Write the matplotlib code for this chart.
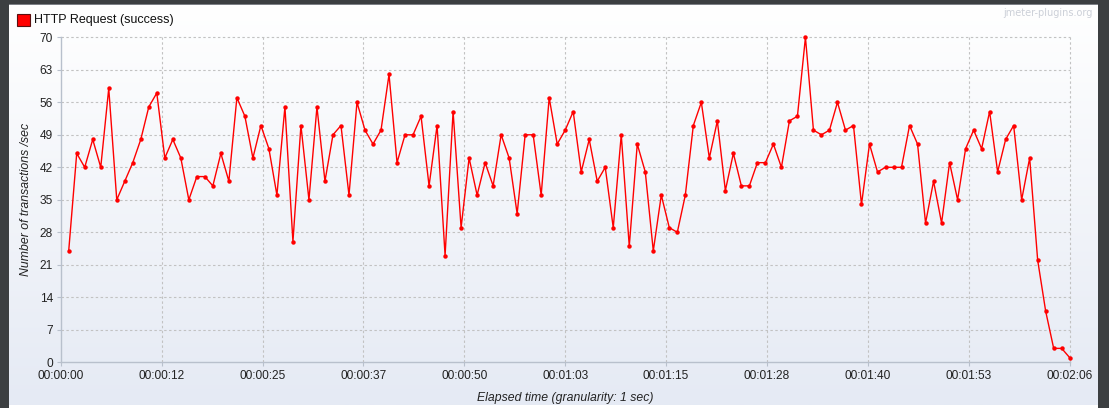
import numpy as np
import matplotlib
matplotlib.use("Agg")
import matplotlib.pyplot as plt
from matplotlib.patches import Rectangle
from matplotlib.ticker import FixedLocator, FixedFormatter

# ---- data ----
seconds = list(range(1, 127))
transactions = [
    24, 45, 42, 48, 42, 59, 35, 39, 43, 48,
    55, 58, 44, 48, 44, 35, 40, 40, 38, 45,
    39, 57, 53, 44, 51, 46, 36, 55, 26, 51,
    35, 55, 39, 49, 51, 36, 56, 50, 47, 50,
    62, 43, 49, 49, 53, 38, 51, 23, 54, 29,
    44, 36, 43, 38, 49, 44, 32, 49, 49, 36,
    57, 47, 50, 54, 41, 48, 39, 42, 29, 49,
    25, 47, 41, 24, 36, 29, 28, 36, 51, 56,
    44, 52, 37, 45, 38, 38, 43, 43, 47, 42,
    52, 53, 70, 50, 49, 50, 56, 50, 51, 34,
    47, 41, 42, 42, 42, 51, 47, 30, 39, 30,
    43, 35, 46, 50, 46, 54, 41, 48, 51, 35,
    44, 22, 11, 3, 3, 1,
]
x_tick_pos = [0, 12.6, 25.2, 37.8, 50.4, 63.0, 75.6, 88.2, 100.8, 113.4, 126.0]
x_tick_labels = ["00:00:00", "00:00:12", "00:00:25", "00:00:37", "00:00:50",
                 "00:01:03", "00:01:15", "00:01:28", "00:01:40", "00:01:53", "00:02:06"]
y_ticks = [0, 7, 14, 21, 28, 35, 42, 49, 56, 63, 70]
series_name = "HTTP Request (success)"

W, H = 1109, 408
fig = plt.figure(figsize=(W / 100, H / 100), dpi=100)
fig.patch.set_facecolor("#3c3f41")
FONT = "Liberation Sans"

def fx(px):
    return px / W

def fy(py):
    return 1 - py / H

# panel background with vertical gradient
p_left, p_right, p_top, p_bot = 9, 1098, 5, 405
bg = fig.add_axes([fx(p_left), fy(p_bot), fx(p_right - p_left), (p_bot - p_top) / H])
grad = np.linspace(0, 1, 256).reshape(-1, 1)
top_c = np.array([1.0, 1.0, 1.0])
bot_c = np.array([0xe5, 0xea, 0xf4]) / 255
img = top_c[None, None, :] * (1 - grad[:, :, None]) + bot_c[None, None, :] * grad[:, :, None]
bg.imshow(img, aspect="auto", extent=[0, 1, 0, 1], origin="upper")
bg.set_axis_off()
bg.set_zorder(0)
# white strip at bottom
fig.patches.append(Rectangle((fx(p_left), 0), fx(p_right - p_left), fy(p_bot), transform=fig.transFigure,
                             facecolor="white", edgecolor="none", zorder=0))
# thin gray line at the top of the panel
fig.patches.append(Rectangle((fx(p_left), fy(p_top)), fx(p_right - p_left), 1.5 / H, transform=fig.transFigure,
                             facecolor="#7d8086", edgecolor="none", zorder=0))

# main axes
ax_l, ax_r, ax_t, ax_b = 60.7, 1069.7, 37.3, 362.3
ax = fig.add_axes([fx(ax_l), fy(ax_b), fx(ax_r - ax_l), (ax_b - ax_t) / H])
ax.set_zorder(1)
ax.patch.set_alpha(0)

ax.plot(seconds, transactions, color="#ff0000", lw=1.0, marker="o", ms=3.2,
        markeredgewidth=0, zorder=3, clip_on=False)

ax.set_xlim(0, 126)
ax.set_ylim(0, 70)
ax.xaxis.set_major_locator(FixedLocator(x_tick_pos))
ax.xaxis.set_major_formatter(FixedFormatter(x_tick_labels))
ax.set_yticks(y_ticks)

grid_kw = dict(color="#c2c2c2", lw=0.8, linestyle=(0, (2.2, 2.2)))
for y in y_ticks[1:]:
    ax.axhline(y, zorder=1, clip_on=False, **grid_kw)
for x in x_tick_pos[1:]:
    ax.axvline(x, zorder=1, clip_on=False, **grid_kw)

for s in ("top", "right"):
    ax.spines[s].set_visible(False)
for s in ("left", "bottom"):
    ax.spines[s].set_color("#b8c0cc")
    ax.spines[s].set_linewidth(1.0)

ax.tick_params(axis="both", colors="#b8c0cc", length=3, width=0.8, labelcolor="#222222",
               labelsize=8.6, pad=2.5)
for lbl in ax.get_xticklabels() + ax.get_yticklabels():
    lbl.set_fontfamily(FONT)

ax.set_ylabel("Number of transactions /sec", fontsize=8.8, style="italic",
              family=FONT, color="#222222")
ax.yaxis.set_label_coords(fx(32.5 - ax_l) / fx(ax_r - ax_l), 0.5)
ax.set_xlabel("Elapsed time (granularity: 1 sec)", fontsize=8.8, style="italic",
              family=FONT, color="#222222")
ax.xaxis.set_label_coords(0.5, -(392 - ax_b) / (ax_b - ax_t))

# legend
fig.patches.append(Rectangle((fx(17.3), fy(26.3)), fx(12.7), 12.7 / H, transform=fig.transFigure,
                             facecolor="#ff0000", edgecolor="#5a1010", lw=0.8, zorder=5))
fig.text(fx(34), fy(19.8), series_name, fontsize=9.0, family=FONT, color="#111111",
         va="center", ha="left")

# watermark
fig.text(fx(1093), fy(12.5), "jmeter-plugins.org", fontsize=7.0, family="DejaVu Sans",
         color="#ccd0d8", va="center", ha="right")

fig.savefig("out.png", dpi=100, facecolor=fig.get_facecolor())
